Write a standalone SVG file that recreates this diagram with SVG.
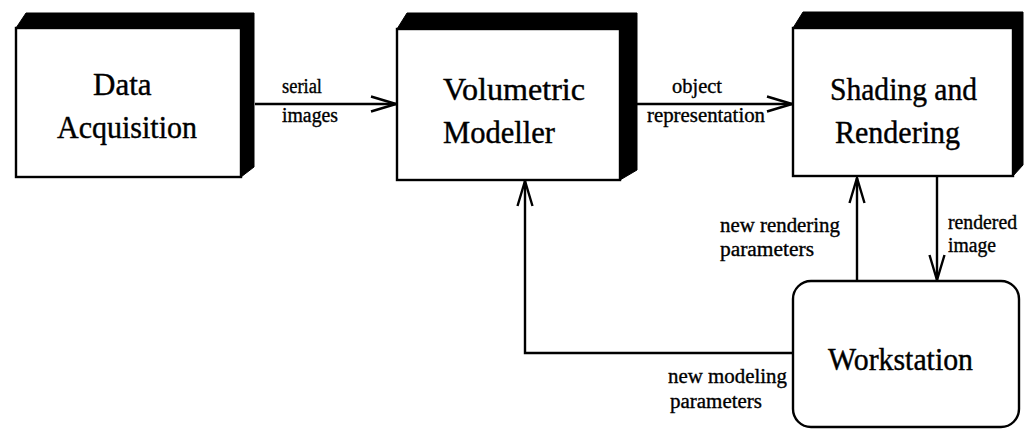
<svg xmlns="http://www.w3.org/2000/svg" width="1025" height="430" viewBox="0 0 1025 430">
  <style>
    .front { fill: #ffffff; stroke: #000000; stroke-width: 2.4; }
    .shadow { fill: #000000; stroke: #000000; stroke-width: 1; stroke-linejoin: round; }
    .main { font-family: "Liberation Serif", "Times New Roman", serif; font-size: 31px; fill: #000000; stroke: #000000; stroke-width: 0.4; }
    .lbl { font-family: "Liberation Serif", "Times New Roman", serif; font-size: 20px; fill: #000000; stroke: #000000; stroke-width: 0.35; }
    .conn { fill: none; stroke: #000000; stroke-width: 2.4; }
  </style>
  <defs>
    <marker id="arr" viewBox="-27 -10 29 20" refX="0" refY="0" markerWidth="29" markerHeight="20" markerUnits="userSpaceOnUse" orient="auto">
      <path d="M-25,-7.5 L0,0 L-25,7.5" fill="none" stroke="#000000" stroke-width="2.4"/>
    </marker>
  </defs>
  <rect width="1025" height="430" fill="#ffffff"/>

  <g id="data-acquisition">
    <polygon class="shadow" points="16,28 26,13 254,13 254,167 241,177 241,28"/>
    <rect class="front" x="16" y="28" width="225" height="149"/>
    <text class="main" x="93" y="95">Data</text>
    <text class="main" x="57" y="138" textLength="140" lengthAdjust="spacingAndGlyphs">Acquisition</text>
  </g>

  <g id="volumetric-modeller">
    <polygon class="shadow" points="397,29 407,13 637,13 637,170 620,180 620,29"/>
    <rect class="front" x="397" y="29" width="223" height="151"/>
    <text class="main" x="443" y="100" textLength="142" lengthAdjust="spacingAndGlyphs">Volumetric</text>
    <text class="main" x="443" y="143" textLength="112" lengthAdjust="spacingAndGlyphs">Modeller</text>
  </g>

  <g id="shading-rendering">
    <polygon class="shadow" points="793,28 803,12 1023,12 1023,165 1013,176 1013,28"/>
    <rect class="front" x="793" y="28" width="220" height="148"/>
    <text class="main" x="830" y="100" textLength="147" lengthAdjust="spacingAndGlyphs">Shading and</text>
    <text class="main" x="835" y="143" textLength="125" lengthAdjust="spacingAndGlyphs">Rendering</text>
  </g>

  <g id="workstation">
    <rect class="front" x="793" y="281" width="226" height="146" rx="18" ry="18"/>
    <text class="main" x="828" y="370" textLength="145" lengthAdjust="spacingAndGlyphs">Workstation</text>
  </g>

  <g id="connectors">
    <line class="conn" x1="255" y1="104" x2="396" y2="104" marker-end="url(#arr)"/>
    <line class="conn" x1="637" y1="104" x2="792" y2="104" marker-end="url(#arr)"/>
    <line class="conn" x1="857" y1="281" x2="857" y2="178" marker-end="url(#arr)"/>
    <line class="conn" x1="937" y1="177" x2="937" y2="280" marker-end="url(#arr)"/>
    <polyline class="conn" points="793,353 525,353 525,181" marker-end="url(#arr)"/>
  </g>

  <g id="connector-labels">
    <text class="lbl" x="282" y="93" textLength="40" lengthAdjust="spacingAndGlyphs">serial</text>
    <text class="lbl" x="282" y="122" textLength="56" lengthAdjust="spacingAndGlyphs">images</text>
    <text class="lbl" x="672" y="93" textLength="50" lengthAdjust="spacingAndGlyphs">object</text>
    <text class="lbl" x="647" y="122" textLength="118" lengthAdjust="spacingAndGlyphs">representation</text>
    <text class="lbl" x="720" y="232" textLength="120" lengthAdjust="spacingAndGlyphs">new rendering</text>
    <text class="lbl" x="720" y="256" textLength="94" lengthAdjust="spacingAndGlyphs">parameters</text>
    <text class="lbl" x="948" y="229" textLength="69" lengthAdjust="spacingAndGlyphs">rendered</text>
    <text class="lbl" x="948" y="252" textLength="48" lengthAdjust="spacingAndGlyphs">image</text>
    <text class="lbl" x="668" y="383" textLength="119" lengthAdjust="spacingAndGlyphs">new modeling</text>
    <text class="lbl" x="670" y="408" textLength="92" lengthAdjust="spacingAndGlyphs">parameters</text>
  </g>
</svg>
